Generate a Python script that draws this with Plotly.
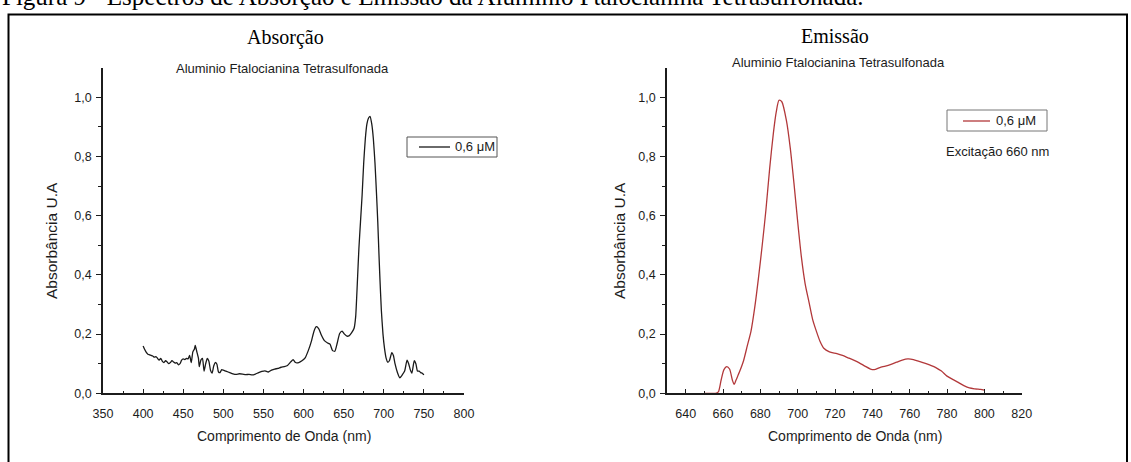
import plotly.graph_objects as go

# ---- absorption spectrum (0,6 uM) ----
abs_wl = [400, 402, 404, 406, 408, 410, 412, 414, 416, 418, 420, 422, 424, 426, 428,
          430, 432, 434, 436, 438, 440, 442, 444, 446, 448, 450, 452, 454, 456, 458,
          460, 462, 464, 465, 467, 469, 470, 472, 474, 476, 478, 480, 482, 484, 486,
          488, 490, 492, 494, 496, 498, 500, 504, 508, 512, 516, 520, 524, 528, 532,
          536, 540, 544, 548, 552, 556, 560, 564, 568, 572, 576, 580, 584, 587, 590,
          594, 598, 602, 606, 610, 613, 616, 619, 622, 626, 630, 633, 636, 639, 642,
          645, 648, 651, 654, 657, 660, 663, 665, 667, 669, 671, 673, 675, 677, 679,
          681, 683, 685, 687, 689, 691, 692.5, 694, 695, 697, 699, 701, 703, 705, 707,
          710, 712, 714, 717, 720, 723, 726, 729, 731, 733, 735, 738, 740, 742, 744,
          746, 748, 750]
abs_val = [0.160, 0.148, 0.138, 0.132, 0.130, 0.128, 0.126, 0.122, 0.124, 0.118, 0.112,
           0.118, 0.108, 0.104, 0.110, 0.106, 0.100, 0.104, 0.110, 0.106, 0.102, 0.104,
           0.096, 0.100, 0.112, 0.116, 0.114, 0.118, 0.116, 0.128, 0.104, 0.140, 0.150,
           0.162, 0.140, 0.118, 0.090, 0.112, 0.118, 0.075, 0.100, 0.118, 0.108, 0.078,
           0.068, 0.092, 0.104, 0.098, 0.072, 0.070, 0.080, 0.078, 0.074, 0.070, 0.066,
           0.064, 0.066, 0.065, 0.063, 0.064, 0.062, 0.065, 0.070, 0.074, 0.076, 0.072,
           0.078, 0.082, 0.084, 0.088, 0.090, 0.094, 0.106, 0.114, 0.104, 0.104, 0.110,
           0.120, 0.145, 0.178, 0.210, 0.225, 0.218, 0.198, 0.178, 0.170, 0.166, 0.145,
           0.142, 0.170, 0.202, 0.210, 0.200, 0.193, 0.195, 0.205, 0.220, 0.260, 0.370,
           0.490, 0.580, 0.670, 0.780, 0.860, 0.910, 0.930, 0.935, 0.910, 0.860, 0.780,
           0.670, 0.580, 0.470, 0.400, 0.280, 0.200, 0.150, 0.118, 0.105, 0.110, 0.137,
           0.128, 0.100, 0.070, 0.052, 0.062, 0.075, 0.112, 0.100, 0.080, 0.068, 0.110,
           0.100, 0.075, 0.075, 0.070, 0.068, 0.062]

# ---- emission spectrum (excitation 660 nm) ----
em_wl = [650, 653, 656, 657.5, 659, 660.5, 662, 663.5, 665, 666, 667, 669, 671, 673,
         675, 677, 679, 681, 683, 685, 687, 688.5, 690, 691.5, 694, 696, 698, 700, 702,
         704, 706, 708, 710, 712, 714, 717, 721, 724, 727, 730, 733, 736, 739, 741, 744,
         747, 750, 753, 756, 759, 762, 765, 768, 771, 774, 777, 780, 783, 786, 789, 792,
         795, 798, 800]
em_val = [0.0, 0.0, 0.0, 0.005, 0.045, 0.080, 0.090, 0.082, 0.045, 0.030, 0.045, 0.075,
          0.110, 0.160, 0.210, 0.290, 0.390, 0.500, 0.620, 0.760, 0.880, 0.950, 0.990,
          0.985, 0.920, 0.830, 0.710, 0.580, 0.460, 0.370, 0.310, 0.250, 0.210, 0.175,
          0.152, 0.140, 0.134, 0.128, 0.120, 0.112, 0.103, 0.092, 0.082, 0.080, 0.087,
          0.092, 0.098, 0.105, 0.112, 0.116, 0.114, 0.108, 0.102, 0.095, 0.087, 0.075,
          0.058, 0.047, 0.037, 0.026, 0.018, 0.015, 0.013, 0.011]

y_ticks = [0.0, 0.2, 0.4, 0.6, 0.8, 1.0]
y_ticktext = ["0,0", "0,2", "0,4", "0,6", "0,8", "1,0"]
y_minor = [0.1, 0.3, 0.5, 0.7, 0.9]
abs_xticks = [350, 400, 450, 500, 550, 600, 650, 700, 750, 800]
abs_xminor = [375, 425, 475, 525, 575, 625, 675, 725, 775]
em_xticks = [640, 660, 680, 700, 720, 740, 760, 780, 800, 820]
em_xminor = [630, 650, 670, 690, 710, 730, 750, 770, 790, 810]
series_label = "0,6 μM"

W, H = 1131, 462
SANS = "Liberation Sans, Arial, sans-serif"
SERIF = "Liberation Serif, Times New Roman, serif"
INK = "#1c1c1c"
ABS_COLOR = "#1a1a1a"
EM_COLOR = "#b2383a"


def fx(x):
    return x / W


def fy(y):
    return 1 - y / H


fig = go.Figure()
fig.add_trace(go.Scatter(
    x=abs_wl, y=abs_val, mode="lines", name=series_label, showlegend=False,
    line=dict(color=ABS_COLOR, width=1.3, shape="spline", smoothing=0.5),
    xaxis="x", yaxis="y"))
fig.add_trace(go.Scatter(
    x=em_wl, y=em_val, mode="lines", name=series_label, showlegend=False,
    line=dict(color=EM_COLOR, width=1.3, shape="spline", smoothing=0.7),
    xaxis="x2", yaxis="y2"))


def x_axis(dom, rng, ticks, minor, anchor):
    return dict(
        domain=dom, range=rng, anchor=anchor, showgrid=False, zeroline=False,
        automargin=False, fixedrange=True,
        showline=True, linecolor=INK, linewidth=1.6,
        ticks="inside", ticklen=5, tickwidth=1.3, tickcolor=INK,
        tickvals=ticks, ticktext=[str(t) for t in ticks], ticklabelstandoff=8,
        minor=dict(ticks="inside", ticklen=3, tickwidth=1.2, tickcolor=INK, tickvals=minor),
        tickfont=dict(family=SANS, size=12.5, color=INK),
    )


def y_axis(dom, anchor):
    return dict(
        domain=dom, range=[0, 1.1], anchor=anchor, showgrid=False, zeroline=False,
        automargin=False, fixedrange=True,
        showline=True, linecolor=INK, linewidth=1.6,
        ticks="outside", ticklen=5, tickwidth=1.3, tickcolor=INK,
        tickvals=y_ticks, ticktext=y_ticktext, ticklabelstandoff=2,
        minor=dict(ticks="outside", ticklen=3, tickwidth=1.2, tickcolor=INK, tickvals=y_minor),
        tickfont=dict(family=SANS, size=12.5, color=INK),
    )


ydom = [fy(393.3), fy(67.7)]

fig.update_layout(
    width=W, height=H, autosize=False,
    margin=dict(l=0, r=0, t=0, b=0, pad=0),
    paper_bgcolor="white", plot_bgcolor="white",
    showlegend=False,
    xaxis=x_axis([fx(103), fx(464)], [350, 800], abs_xticks, abs_xminor, "y"),
    yaxis=y_axis(ydom, "x"),
    xaxis2=x_axis([fx(667), fx(1021.7)], [630, 820], em_xticks, em_xminor, "y2"),
    yaxis2=y_axis(ydom, "x2"),
)

annotations = [
    dict(text="Figura 9 - Espectros de Absorção e Emissão da Alumínio Ftalocianina Tetrasulfonada.",
         x=0, y=fy(12), xanchor="left", yanchor="bottom",
         font=dict(family=SERIF, size=25, color="black")),
    dict(text="Absorção", x=fx(285), y=fy(38), xanchor="center", yanchor="middle",
         font=dict(family=SERIF, size=20, color="black")),
    dict(text="Emissão", x=fx(835), y=fy(36), xanchor="center", yanchor="middle",
         font=dict(family=SERIF, size=20, color="black")),
    dict(text="Aluminio Ftalocianina Tetrasulfonada", x=fx(282), y=fy(68),
         xanchor="center", yanchor="middle", font=dict(family=SANS, size=13, color=INK)),
    dict(text="Aluminio Ftalocianina Tetrasulfonada", x=fx(838), y=fy(62),
         xanchor="center", yanchor="middle", font=dict(family=SANS, size=13, color=INK)),
    # axis titles
    dict(text="Comprimento de Onda (nm)", x=fx(284), y=fy(436),
         xanchor="center", yanchor="middle", font=dict(family=SANS, size=14, color=INK)),
    dict(text="Comprimento de Onda (nm)", x=fx(855), y=fy(436),
         xanchor="center", yanchor="middle", font=dict(family=SANS, size=14, color=INK)),
    dict(text="Absorbância U.A", x=fx(51), y=fy(241), textangle=-90,
         xanchor="center", yanchor="middle", font=dict(family=SANS, size=15.5, color=INK)),
    dict(text="Absorbância U.A", x=fx(619), y=fy(241), textangle=-90,
         xanchor="center", yanchor="middle", font=dict(family=SANS, size=15.5, color=INK)),
    # legend entries
    dict(text=series_label, x=fx(453), y=fy(147), xanchor="left", yanchor="middle",
         font=dict(family=SANS, size=13, color=INK)),
    dict(text=series_label, x=fx(994), y=fy(121), xanchor="left", yanchor="middle",
         font=dict(family=SANS, size=13, color=INK)),
    dict(text="Excitação 660 nm", x=fx(997), y=fy(151),
         xanchor="center", yanchor="middle", font=dict(family=SANS, size=13, color=INK)),
]
for a in annotations:
    a.update(xref="paper", yref="paper", showarrow=False)
fig.update_layout(annotations=annotations)

shapes = [
    # legend boxes and line samples
    dict(type="rect", x0=fx(407), x1=fx(497), y0=fy(157), y1=fy(137),
         line=dict(color="#555555", width=1)),
    dict(type="line", x0=fx(419), x1=fx(450), y0=fy(147), y1=fy(147),
         line=dict(color=ABS_COLOR, width=1.3)),
    dict(type="rect", x0=fx(947), x1=fx(1047), y0=fy(131), y1=fy(110),
         line=dict(color="#777777", width=1)),
    dict(type="line", x0=fx(963), x1=fx(990), y0=fy(121), y1=fy(121),
         line=dict(color=EM_COLOR, width=1.3)),
    # frame around the whole figure
    dict(type="rect", x0=fx(8.5), x1=fx(1127), y0=fy(470), y1=fy(14.5),
         line=dict(color="black", width=2)),
]
for s in shapes:
    s.update(xref="paper", yref="paper", fillcolor="rgba(0,0,0,0)", layer="above")
fig.update_layout(shapes=shapes)

fig.write_html("out.html", config={"responsive": False, "displayModeBar": False})
